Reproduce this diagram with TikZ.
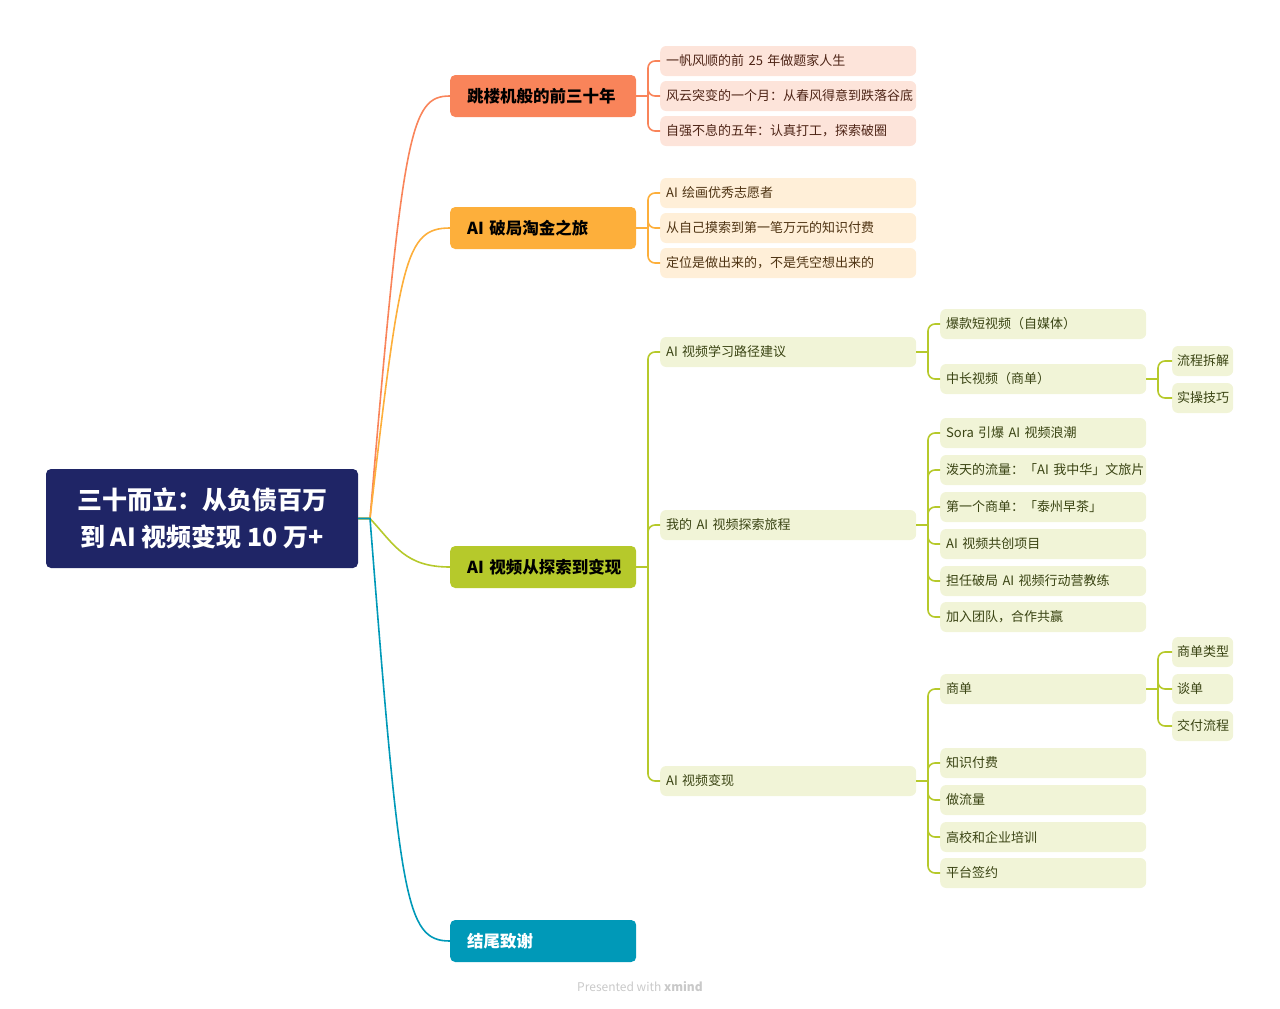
\documentclass[tikz,border=0pt]{standalone}
\usepackage{fontspec}
\setmainfont{Noto Sans CJK SC}
\definecolor{navy}{HTML}{1F2566}
\definecolor{coral}{HTML}{F9845A}
\definecolor{coralleaf}{HTML}{FDE4DA}
\definecolor{coraltext}{HTML}{4E2416}
\definecolor{amber}{HTML}{FDAF3B}
\definecolor{amberleaf}{HTML}{FFEFD8}
\definecolor{ambertext}{HTML}{4E3312}
\definecolor{lime}{HTML}{B6C92B}
\definecolor{limeleaf}{HTML}{F1F4D7}
\definecolor{limetext}{HTML}{3A4413}
\definecolor{teal}{HTML}{0099B8}
\definecolor{credit}{HTML}{C9C9C9}
\begin{document}
\begin{tikzpicture}[x=1pt,y=-1pt,
    root/.style={fill=navy, rounded corners=5pt, text=white, align=center,
        minimum width=312pt, minimum height=99pt,
        font=\fontsize{25}{37}\selectfont\bfseries},
    oneline/.style={align=left, execute at begin node=\hbox\bgroup, execute at end node=\egroup},
    main/.style={oneline, rounded corners=5pt, anchor=west, inner xsep=17pt, text width=152pt,
        minimum height=42pt, font=\fontsize{16.5}{20}\selectfont\bfseries},
    leaf/.style={oneline, rounded corners=6pt, anchor=west, inner xsep=6pt, text width=244pt,
        minimum height=30pt, font=\fontsize{13}{16}\selectfont},
    sub/.style={leaf, text width=194pt},
    tiny/.style={leaf, inner xsep=5pt, text width=51pt},
    link/.style={line width=1.6pt},
    branch/.style={line width=1.6pt, rounded corners=7pt},
]
\useasboundingbox (0,0) rectangle (1280,1009);

% central topic
\node[root] (root) at (202,518.5) {三十而立：从负债百万\\到 AI 视频变现 10 万+};
\coordinate (rj) at (370,518.5);

% main topics
\node[main, fill=coral] (t1) at (450,96) {跳楼机般的前三十年};
\node[main, fill=amber] (t2) at (450,228) {AI 破局淘金之旅};
\node[main, fill=lime] (t3) at (450,567) {AI 视频从探索到变现};
\node[main, fill=teal, text=white] (t4) at (450,941) {结尾致谢};

\draw[link, coral] (root.east) -- (rj) .. controls +(33,-388) and +(-40,0) .. (t1.west);
\draw[link, amber] (root.east) -- (rj) .. controls +(30,-258) and +(-45,0) .. (t2.west);
\draw[link, lime] (root.east) -- (rj) .. controls +(25,27) and +(-45,0) .. (t3.west);
\draw[link, teal] (root.east) -- (rj) .. controls +(30,382) and +(-45,0) .. (t4.west);

% first block
\begin{scope}[every node/.append style={fill=coralleaf, text=coraltext}]
\node[leaf] (t1a) at (660,61) {一帆风顺的前 25 年做题家人生};
\node[leaf] (t1b) at (660,96) {风云突变的一个月：从春风得意到跌落谷底};
\node[leaf] (t1c) at (660,131) {自强不息的五年：认真打工，探索破圈};
\end{scope}
\coordinate (t1j) at (648,96);
\draw[link, coral] (t1.east) -- (t1j);
\foreach \n in {t1a,t1b,t1c}
    \draw[branch, coral] (t1j) |- (\n.west);

% second block
\begin{scope}[every node/.append style={fill=amberleaf, text=ambertext}]
\node[leaf] (t2a) at (660,193) {AI 绘画优秀志愿者};
\node[leaf] (t2b) at (660,228) {从自己摸索到第一笔万元的知识付费};
\node[leaf] (t2c) at (660,263) {定位是做出来的，不是凭空想出来的};
\end{scope}
\coordinate (t2j) at (648,228);
\draw[link, amber] (t2.east) -- (t2j);
\foreach \n in {t2a,t2b,t2c}
    \draw[branch, amber] (t2j) |- (\n.west);

% third block
\begin{scope}[every node/.append style={fill=limeleaf, text=limetext}]
\node[leaf] (s1) at (660,352) {AI 视频学习路径建议};
\node[leaf] (s2) at (660,525) {我的 AI 视频探索旅程};
\node[leaf] (s3) at (660,781) {AI 视频变现};

\node[sub] (s1a) at (940,324) {爆款短视频（自媒体）};
\node[sub] (s1b) at (940,379) {中长视频（商单）};
\node[tiny] (s1b1) at (1172,361) {流程拆解};
\node[tiny] (s1b2) at (1172,398) {实操技巧};

\node[sub] (s2a) at (940,433) {Sora 引爆 AI 视频浪潮};
\node[sub] (s2b) at (940,470) {泼天的流量：「AI 我中华」文旅片};
\node[sub] (s2c) at (940,507) {第一个商单：「泰州早茶」};
\node[sub] (s2d) at (940,544) {AI 视频共创项目};
\node[sub] (s2e) at (940,581) {担任破局 AI 视频行动营教练};
\node[sub] (s2f) at (940,617) {加入团队，合作共赢};

\node[sub] (s3a) at (940,689) {商单};
\node[tiny] (s3a1) at (1172,652) {商单类型};
\node[tiny] (s3a2) at (1172,689) {谈单};
\node[tiny] (s3a3) at (1172,726) {交付流程};
\node[sub] (s3b) at (940,763) {知识付费};
\node[sub] (s3c) at (940,800) {做流量};
\node[sub] (s3d) at (940,837) {高校和企业培训};
\node[sub] (s3e) at (940,873) {平台签约};
\end{scope}

\coordinate (t3j) at (648,567);
\draw[link, lime] (t3.east) -- (t3j);
\foreach \n in {s1,s2,s3}
    \draw[branch, lime] (t3j) |- (\n.west);

\coordinate (s1j) at (928,352);
\draw[link, lime] (s1.east) -- (s1j);
\foreach \n in {s1a,s1b}
    \draw[branch, lime] (s1j) |- (\n.west);
\coordinate (s1bj) at (1158,379);
\draw[link, lime] (s1b.east) -- (s1bj);
\foreach \n in {s1b1,s1b2}
    \draw[branch, lime] (s1bj) |- (\n.west);

\coordinate (s2j) at (928,525);
\draw[link, lime] (s2.east) -- (s2j);
\foreach \n in {s2a,s2b,s2c,s2d,s2e,s2f}
    \draw[branch, lime] (s2j) |- (\n.west);

\coordinate (s3j) at (928,781);
\draw[link, lime] (s3.east) -- (s3j);
\foreach \n in {s3a,s3b,s3c,s3d,s3e}
    \draw[branch, lime] (s3j) |- (\n.west);
\coordinate (s3aj) at (1158,689);
\draw[link, lime] (s3a.east) -- (s3aj);
\foreach \n in {s3a1,s3a2,s3a3}
    \draw[branch, lime] (s3aj) |- (\n.west);

% footer
\node[text=credit, font=\fontsize{12}{14}\selectfont] (note) at (640,987) {Presented with \textbf{xmind}};
\end{tikzpicture}
\end{document}
